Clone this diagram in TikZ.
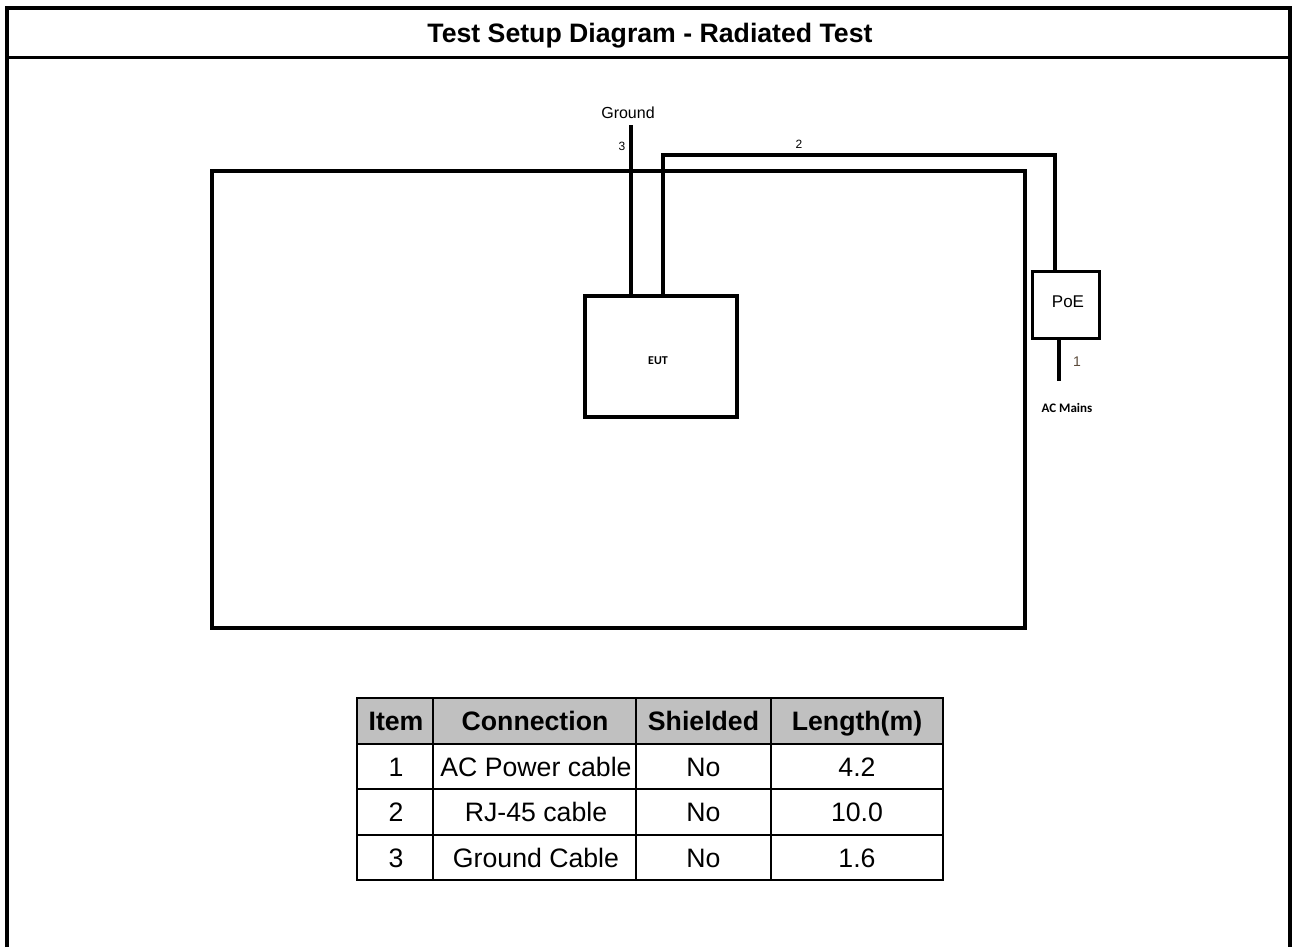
\documentclass[tikz,border=0pt]{standalone}
\usepackage{fontspec}
\setmainfont{Liberation Sans}
\newfontfamily\calibri{Carlito}
\usetikzlibrary{positioning, calc}
\definecolor{chead}{HTML}{C0C0C0}
\definecolor{cnum}{HTML}{5A4A3A}

\begin{document}
\begin{tikzpicture}[
    x=0.75pt, y=-0.75pt,
    box/.style={rectangle, draw, line width=2.5pt, inner sep=0pt},
    cable/.style={line width=3pt},
    big/.style={anchor=base, inner sep=0pt, font=\fontsize{20}{22}\selectfont},
    bighead/.style={big, font=\fontsize{20}{22}\selectfont\bfseries},
    small/.style={anchor=base, inner sep=0pt, font=\fontsize{9}{10}\selectfont}
]
\useasboundingbox (0,0) rectangle (1295,947);

% Frame
\draw[line width=3pt] (7,947) -- (7,8) -- (1290,8) -- (1290,947);
\draw[line width=2.25pt] (7,57) -- (1290,57);
\node[bighead] (title) at (650,42) {Test Setup Diagram - Radiated Test};

% Chamber
\node[box, line width=3pt, minimum width=609.75pt, minimum height=342.75pt] (room) at (618.5,399.5) {};

% Equipment
\node[box, minimum width=114pt, minimum height=90.75pt] (eut) at (661,356.5) {};
\node[anchor=base, inner sep=0pt, font=\calibri\bfseries\fontsize{9}{10}\selectfont] (eutlabel) at (658,364) {EUT};

\node[box, minimum width=50.25pt, minimum height=50.25pt] (poe) at (1066,305) {};
\node[anchor=base, inner sep=0pt, font=\fontsize{12.75}{14}\selectfont] (poelabel) at (1068,307) {PoE};

% Cables
\coordinate (gnd) at (631,125);
\coordinate (rjbend) at (663,155);
\coordinate (rjpoe) at (1055,155);
\coordinate (mains) at (1059,381);

\draw[cable] (gnd |- eut.north) -- (gnd);
\draw[cable] (rjbend |- eut.north) -- (rjbend) -- (rjpoe) -- (rjpoe |- poe.north);
\draw[cable] (mains |- poe.south) -- (mains);

% Cable labels
\node[anchor=base, inner sep=0pt, font=\fontsize{12}{14}\selectfont] (gndlabel) at (628,118) {Ground};
\node[small] (n3) at (622,150) {3};
\node[small] (n2) at (799,148) {2};
\node[anchor=base, inner sep=0pt, text=cnum, font=\fontsize{10.5}{12}\selectfont] (n1) at (1077,366) {1};
\node[anchor=base, inner sep=0pt, font=\calibri\bfseries\fontsize{9.75}{11}\selectfont] (acmains) at (1067,412) {AC Mains};

% Table
\fill[chead] (357,698) rectangle (943,744);
\begin{scope}[line width=1.5pt]
    \draw (357,698) rectangle (943,880);
    \draw (357,744) -- (943,744);
    \draw (357,789) -- (943,789);
    \draw (357,835) -- (943,835);
    \draw (433,698) -- (433,880);
    \draw (636,698) -- (636,880);
    \draw (771,698) -- (771,880);
\end{scope}

\node[bighead] (hitem) at (396,730) {Item};
\node[bighead] (hconn) at (535,730) {Connection};
\node[bighead] (hshield) at (703.5,730) {Shielded};
\node[bighead] (hlen) at (857,730) {Length(m)};

\node[big] (item1) at (396,776) {1};
\node[big] (conn1) at (536,776) {AC Power cable};
\node[big] (shield1) at (703.5,776) {No};
\node[big] (len1) at (857,776) {4.2};

\node[big] (item2) at (396,821) {2};
\node[big] (conn2) at (536,821) {RJ-45 cable};
\node[big] (shield2) at (703.5,821) {No};
\node[big] (len2) at (857,821) {10.0};

\node[big] (item3) at (396,867) {3};
\node[big] (conn3) at (536,867) {Ground Cable};
\node[big] (shield3) at (703.5,867) {No};
\node[big] (len3) at (857,867) {1.6};

\end{tikzpicture}
\end{document}
